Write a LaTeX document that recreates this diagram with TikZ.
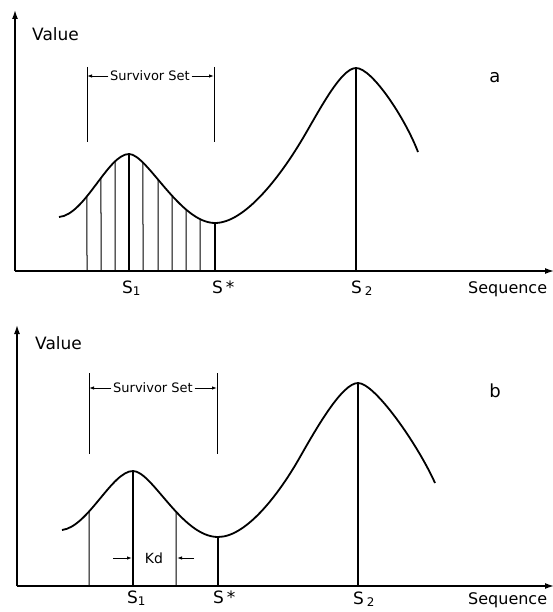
\documentclass[tikz,border=0pt]{standalone}
\usepackage{fontspec}
\setmainfont{DejaVu Sans}
\usetikzlibrary{arrows.meta, intersections}

\begin{document}
\begin{tikzpicture}[x=1pt, y=-1pt,
    axisline/.style={line width=1.4pt, -{Latex[length=9pt, width=6pt]}},
    curveline/.style={line width=1.8pt, line join=round},
    sampline/.style={line width=1pt},
    markline/.style={line width=1.8pt},
    brline/.style={line width=0.9pt},
    brarr/.style={line width=0.9pt, -{Latex[length=5pt, width=3.5pt]}},
    lbl/.style={font=\fontsize{17}{20}\selectfont, inner sep=0pt, anchor=base west},
    surv/.style={font=\fontsize{13}{16}\selectfont, inner sep=1.5pt},
    tag/.style={font=\fontsize{18}{20}\selectfont, inner sep=0pt, anchor=base}
  ]
  \useasboundingbox (0,0) rectangle (552,612);

  % ---- panel a ----
  \draw[axisline] (15,271) -- (15,10);
  \draw[axisline] (15,271) -- (554,271);
  \node[lbl] (valueA) at (32,41) {Value};
  \node[tag] (tagA) at (495,83) {a};

  \draw[curveline, name path=curveA] (59,217)
    .. controls (85,215) and (108,154) .. (129,154)
    .. controls (147,154) and (180,223) .. (215,223)
    .. controls (245,223) and (280,176) .. (300,143)
    .. controls (316,117) and (340,68) .. (356,68)
    .. controls (372,68) and (405,118) .. (418,152);
  \foreach \x in {87, 101, 115, 143, 158, 172, 186, 200} {
    \path[name path=vert] (\x,271) -- (\x,0);
    \draw[sampline, name intersections={of=curveA and vert}] (\x,271) -- (intersection-1);
  }
  \draw[markline] (129,271) -- (129,154);
  \draw[markline] (215,271) -- (215,223);
  \draw[markline] (356,271) -- (356,68);

  \draw[brline] (87,67) -- (87,142);
  \draw[brline] (214,67) -- (214,142);
  \node[surv] (survA) at (150,76) {Survivor Set};
  \draw[brarr] (survA.west) -- (87,76);
  \draw[brarr] (survA.east) -- (214,76);

  \node[lbl] (sOneA) at (122,293) {S\textsubscript{1}};
  \node[lbl] (sStarA) at (212,293) {S\,*};
  \node[lbl] (sTwoA) at (351,293) {S\,\textsubscript{2}};
  \node[lbl, font=\fontsize{16}{20}\selectfont] (seqA) at (468,293) {Sequence};

  % ---- panel b ----
  \draw[axisline] (17,586) -- (17,325);
  \draw[axisline] (17,586) -- (554,586);
  \node[lbl] (valueB) at (35,349) {Value};
  \node[tag] (tagB) at (495,397) {b};

  \draw[curveline, name path=curveB] (62,530)
    .. controls (88,527) and (112,471) .. (133,471)
    .. controls (152,471) and (182,537) .. (218,537)
    .. controls (248,537) and (282,489) .. (300,457)
    .. controls (316,429) and (342,383) .. (358,383)
    .. controls (375,383) and (418,445) .. (435,483);
  \foreach \x in {89, 176} {
    \path[name path=vert] (\x,586) -- (\x,300);
    \draw[sampline, name intersections={of=curveB and vert}] (\x,586) -- (intersection-1);
  }
  \draw[markline] (133,586) -- (133,471);
  \draw[markline] (218,586) -- (218,537);
  \draw[markline] (358,586) -- (358,383);

  \draw[brline] (89,373) -- (89,454);
  \draw[brline] (217,373) -- (217,454);
  \node[surv] (survB) at (153,388) {Survivor Set};
  \draw[brarr] (survB.west) -- (89,388);
  \draw[brarr] (survB.east) -- (217,388);

  \node[surv, font=\fontsize{14}{16}\selectfont] (kd) at (154,558) {Kd};
  \draw[brarr] (113,558) -- (132,558);
  \draw[brarr] (194,558) -- (177,558);

  \node[lbl] (sOneB) at (127,603) {S\textsubscript{1}};
  \node[lbl] (sStarB) at (213,603) {S\,*};
  \node[lbl] (sTwoB) at (353,604) {S\,\textsubscript{2}};
  \node[lbl, font=\fontsize{16}{20}\selectfont] (seqB) at (468,604) {Sequence};
\end{tikzpicture}
\end{document}
